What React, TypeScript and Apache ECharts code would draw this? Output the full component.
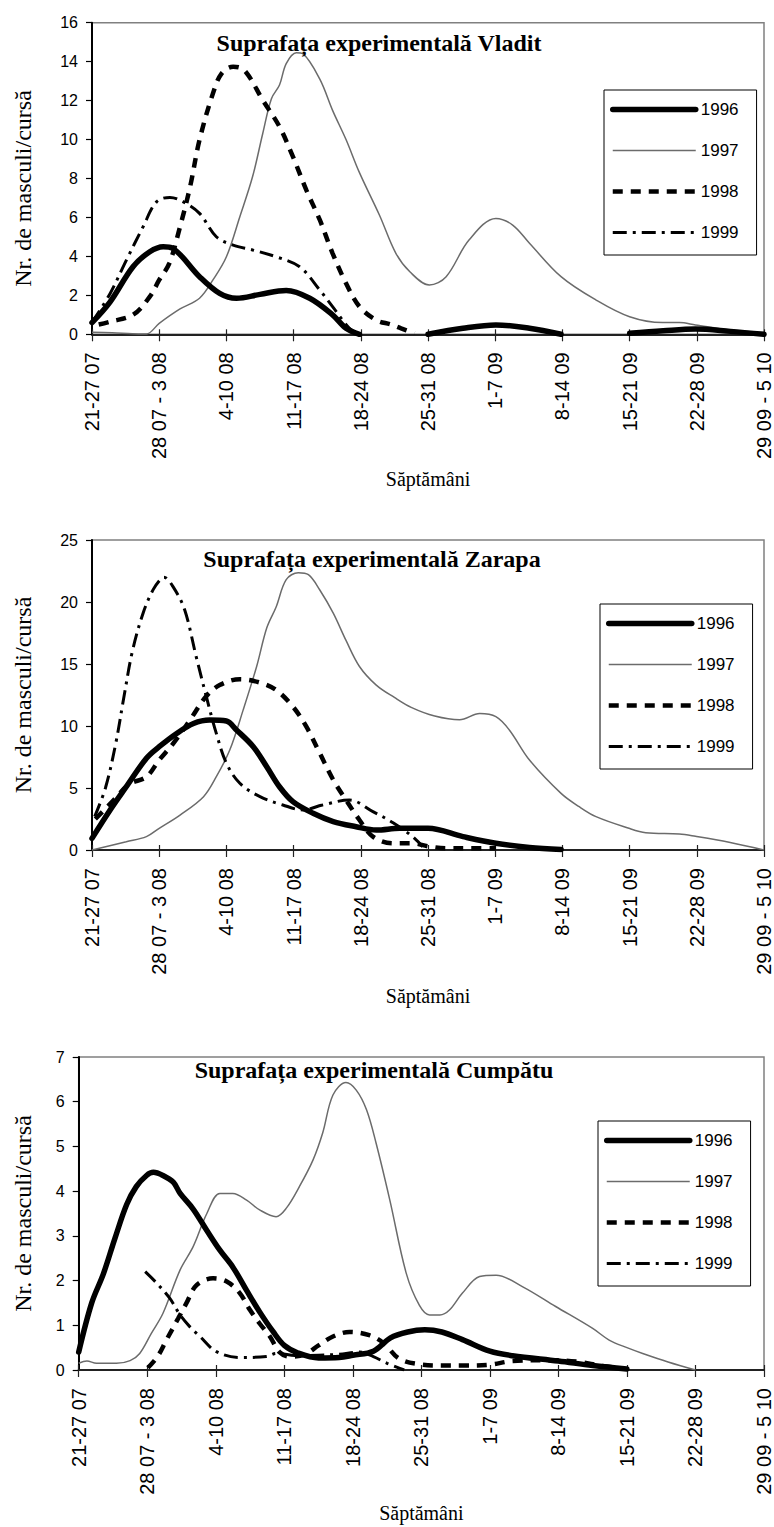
import React, { useEffect, useRef } from "react";
import * as echarts from "echarts";

const weekLabels = [
  "21-27 07", "28 07 - 3 08", "4-10 08", "11-17 08", "18-24 08", "25-31 08",
  "1-7 09", "8-14 09", "15-21 09", "22-28 09", "29 09 - 5 10",
];
const years = ["1996", "1997", "1998", "1999"];
const panelTitles = [
  "Suprafața experimentală Vladit",
  "Suprafața experimentală Zarapa",
  "Suprafața experimentală Cumpătu",
];
const yAxisName = "Nr. de masculi/cursă";
const xAxisName = "Săptămâni";
const yMax = [16, 25, 7];
const yStep = [2, 5, 1];

// Panel 1 – Vladit ([week index, value]; "-" = no data)
const vladit1996 = [[0,0.6],[0.27,1.67],[0.61,3.47],[0.86,4.24],[1.06,4.5],[1.2,4.42],[1.6,2.96],[1.9,2.1],[2.15,1.85],[2.5,2.05],[2.89,2.25],[3.24,1.85],[3.58,1.0],[3.78,0.31],[3.98,0],[4.5,"-"],[5.0,0],[5.52,0.31],[6.01,0.48],[6.51,0.31],[6.98,0],[7.5,"-"],[8.0,0.05],[8.5,0.18],[8.98,0.27],[9.5,0.15],[10,0]];
const vladit1997 = [[0,0.1],[0.3,0.08],[0.6,0.03],[0.81,0.02],[1.0,0.56],[1.31,1.3],[1.6,1.85],[1.8,2.79],[2.0,3.98],[2.2,6.04],[2.39,8.1],[2.54,10.3],[2.67,12.1],[2.79,12.8],[2.89,13.9],[3.04,14.46],[3.14,14.4],[3.39,13.1],[3.58,11.5],[3.78,10.0],[3.98,8.3],[4.28,6.1],[4.52,4.17],[4.73,3.21],[5.02,2.53],[5.27,2.96],[5.61,4.84],[6.01,5.95],[6.26,5.61],[6.51,4.68],[6.98,2.96],[7.5,1.76],[8.0,0.9],[8.49,0.6],[8.74,0.6],[8.98,0.48],[9.48,0.22],[10,0.08]];
const vladit1998 = [[0.1,0.5],[0.27,0.65],[0.61,1.0],[0.86,1.93],[1.0,2.79],[1.15,3.64],[1.31,5.52],[1.46,7.58],[1.6,9.98],[1.8,12.37],[1.93,13.4],[2.1,13.74],[2.27,13.55],[2.54,12.03],[2.79,10.66],[2.99,9.12],[3.19,7.4],[3.39,5.87],[3.58,4.16],[3.78,2.62],[3.98,1.42],[4.23,0.73],[4.45,0.5],[4.6,0.3],[4.8,0.05]];
const vladit1999 = [[0,0.6],[0.27,2.1],[0.51,3.8],[0.76,5.52],[0.96,6.8],[1.16,7.03],[1.36,6.8],[1.6,6.21],[1.85,5.01],[2.1,4.58],[2.39,4.33],[2.74,3.98],[3.09,3.47],[3.39,2.27],[3.58,1.42],[3.83,0.31],[3.98,0]];

// Panel 2 – Zarapa
const zarapa1996 = [[0,0.94],[0.27,3.23],[0.51,5.1],[0.81,7.4],[1.0,8.33],[1.26,9.4],[1.51,10.2],[1.75,10.48],[2.0,10.4],[2.15,9.68],[2.4,8.33],[2.6,6.72],[2.79,5.1],[2.99,3.9],[3.29,2.96],[3.59,2.29],[3.93,1.88],[4.23,1.61],[4.58,1.75],[5.0,1.75],[5.52,1.08],[6.01,0.54],[6.51,0.21],[6.98,0.05]];
const zarapa1997 = [[0,0],[0.51,0.67],[0.81,1.08],[1.0,1.75],[1.31,2.82],[1.66,4.3],[1.85,5.91],[2.05,8.06],[2.25,11.3],[2.45,14.8],[2.6,17.9],[2.74,19.6],[2.89,21.8],[3.07,22.36],[3.22,22.2],[3.39,20.97],[3.59,19.1],[3.78,16.9],[3.98,14.8],[4.23,13.3],[4.5,12.3],[4.75,11.5],[5.1,10.8],[5.47,10.5],[5.77,11.0],[6.01,10.75],[6.21,9.68],[6.51,7.26],[6.98,4.57],[7.25,3.49],[7.5,2.69],[7.99,1.75],[8.24,1.4],[8.74,1.29],[8.98,1.1],[9.48,0.62],[10,0]];
const zarapa1998 = [[0.05,2.5],[0.32,4.0],[0.55,5.3],[0.81,5.9],[1.0,7.26],[1.21,8.6],[1.46,10.5],[1.7,12.4],[1.9,13.3],[2.2,13.77],[2.5,13.5],[2.74,12.9],[2.99,11.56],[3.19,9.94],[3.39,7.8],[3.59,5.65],[3.78,4.03],[3.98,2.42],[4.18,1.08],[4.48,0.54],[4.77,0.54],[5.0,0.3],[5.27,0.14],[5.66,0.14],[6.01,0.14]];
const zarapa1999 = [[0.04,2.7],[0.2,5.0],[0.35,8.5],[0.48,12.5],[0.6,16.0],[0.76,19.1],[0.91,21.0],[1.03,21.9],[1.07,22.0],[1.21,21.2],[1.38,19.35],[1.55,15.6],[1.7,12.4],[1.85,9.4],[2.0,7.0],[2.2,5.38],[2.5,4.3],[2.84,3.63],[3.14,3.23],[3.43,3.63],[3.83,4.03],[4.18,3.1],[4.48,2.2],[4.77,1.08],[4.92,0.27]];

// Panel 3 – Cumpătu
const cumpatu1996 = [[0,0.4],[0.19,1.5],[0.36,2.15],[0.53,2.95],[0.7,3.7],[0.84,4.1],[0.99,4.35],[1.09,4.42],[1.23,4.35],[1.38,4.2],[1.48,3.95],[1.67,3.6],[1.87,3.12],[2.06,2.68],[2.25,2.3],[2.45,1.78],[2.64,1.3],[2.84,0.85],[3.0,0.55],[3.2,0.38],[3.5,0.27],[3.8,0.28],[4.0,0.33],[4.3,0.42],[4.55,0.72],[4.8,0.85],[5.05,0.9],[5.3,0.85],[5.6,0.68],[6.0,0.42],[6.33,0.32],[7.0,0.2],[7.5,0.1],[8.0,0.02]];
const cumpatu1997 = [[0,0.15],[0.12,0.2],[0.26,0.15],[0.55,0.15],[0.75,0.21],[0.89,0.37],[1.06,0.82],[1.23,1.27],[1.48,2.24],[1.67,2.76],[1.87,3.5],[2.06,3.95],[2.25,3.95],[2.45,3.8],[2.64,3.58],[2.88,3.43],[3.03,3.62],[3.22,4.1],[3.42,4.7],[3.56,5.3],[3.71,6.15],[3.9,6.43],[4.05,6.26],[4.2,5.82],[4.34,5.07],[4.54,3.8],[4.78,2.16],[4.97,1.45],[5.12,1.23],[5.27,1.23],[5.41,1.34],[5.6,1.72],[5.85,2.09],[6.09,2.12],[6.48,1.86],[6.96,1.42],[7.5,0.93],[7.74,0.67],[8.0,0.5],[8.23,0.37],[8.6,0.18],[9.0,0]];
const cumpatu1998 = [[1.01,0.05],[1.15,0.3],[1.28,0.67],[1.45,1.15],[1.57,1.49],[1.72,1.9],[1.96,2.05],[2.16,1.98],[2.35,1.72],[2.5,1.34],[2.64,1.04],[2.79,0.75],[2.93,0.4],[3.08,0.3],[3.3,0.35],[3.5,0.55],[3.71,0.75],[3.95,0.85],[4.24,0.78],[4.45,0.6],[4.68,0.25],[5.02,0.12],[5.31,0.1],[5.6,0.1],[6.0,0.12],[6.33,0.2],[6.92,0.22],[7.31,0.18],[7.6,0.1],[7.94,0.03]];
const cumpatu1999 = [[0.97,2.2],[1.14,1.94],[1.33,1.6],[1.48,1.23],[1.62,0.97],[1.77,0.75],[2.01,0.41],[2.35,0.28],[2.74,0.3],[2.88,0.37],[3.2,0.32],[3.5,0.33],[3.8,0.35],[4.1,0.4],[4.3,0.3],[4.5,0.15],[4.75,0.0]];

const panelData = [
  [vladit1996, vladit1997, vladit1998, vladit1999],
  [zarapa1996, zarapa1997, zarapa1998, zarapa1999],
  [cumpatu1996, cumpatu1997, cumpatu1998, cumpatu1999],
];

const SANS = '"Liberation Sans", Arial, sans-serif';
const SERIF = '"Liberation Serif", "Times New Roman", serif';

const lineStyles: any[] = [
  { color: "#000", width: 5.5, type: "solid", cap: "round", join: "round" },
  { color: "#6b6b6b", width: 1.5, type: "solid" },
  { color: "#000", width: 4.5, type: [10, 8] },
  { color: "#000", width: 3, type: [14, 6, 3, 6] },
];

// layout of the three panels (px)
const grids = [
  { left: 92, top: 22.7, width: 673, height: 311.6 },
  { left: 92, top: 540, width: 673, height: 310 },
  { left: 78.7, top: 1057, width: 686.3, height: 313 },
];
const titlePos = [
  { x: 379, y: 43 },
  { x: 372, y: 559 },
  { x: 374, y: 1070 },
];
const legendPos = [
  { left: 604, top: 90 },
  { left: 600, top: 604 },
  { left: 598, top: 1121 },
];
const xNameGap = [135, 136, 133];
const yNameGap = [57, 57, 44];
const yNamePad = [[0, 20, 0, 0], [0, 0, 0, 0], [0, 0, 0, 0]];

export default function App() {
  const ref = useRef<HTMLDivElement>(null);
  useEffect(() => {
    document.body.style.margin = "0";
    const chart = echarts.init(ref.current!, null, { renderer: "svg" });

    const xAxes: any[] = [];
    const overlayX: any[] = [];
    const yAxes: any[] = [];
    const series: any[] = [];
    grids.forEach((g, i) => {
      xAxes.push({
        gridIndex: i,
        type: "value",
        min: 0,
        max: 10,
        interval: 1,
        position: "bottom",
        name: xAxisName,
        nameLocation: "middle",
        nameGap: xNameGap[i],
        nameTextStyle: { fontFamily: SERIF, fontSize: 20, color: "#000" },
        axisLine: { onZero: false, lineStyle: { color: "#222", width: 2 } },
        axisTick: { length: 7, lineStyle: { color: "#222", width: 1.2 } },
        axisLabel: {
          rotate: 90,
          margin: 18,
          fontFamily: SANS,
          fontSize: 20,
          color: "#000",
          showMinLabel: true,
          showMaxLabel: true,
          formatter: (v: number) => weekLabels[Math.round(v)] ?? "",
        },
        splitLine: { show: false },
      });
      overlayX.push({
        gridIndex: i,
        type: "value",
        min: 0,
        max: 10,
        interval: 1,
        position: "bottom",
        axisLine: { show: false, onZero: false },
        axisTick: { inside: true, length: 5, lineStyle: { color: "#222", width: 1.2 } },
        axisLabel: { show: false },
        splitLine: { show: false },
      });
      yAxes.push({
        gridIndex: i,
        type: "value",
        min: 0,
        max: yMax[i],
        interval: yStep[i],
        name: yAxisName,
        nameLocation: "middle",
        nameGap: yNameGap[i],
        nameTextStyle: { fontFamily: SERIF, fontSize: 24, color: "#000", padding: yNamePad[i] },
        axisLine: { show: true, lineStyle: { color: "#000", width: 2 } },
        axisTick: { show: true, length: 6, lineStyle: { color: "#000", width: 1.2 } },
        axisLabel: { margin: 14, fontFamily: SANS, fontSize: 16, color: "#000" },
        splitLine: { show: false },
      });
      panelData[i].forEach((d, k) => {
        series.push({
          type: "line",
          name: years[k],
          xAxisIndex: i,
          yAxisIndex: i,
          data: d,
          smooth: 0.35,
          symbol: "none",
          itemStyle: { color: "#000", opacity: 0 },
          lineStyle: lineStyles[k],
          z: k === 0 ? 3 : 2,
        });
      });
    });

    const option: any = {
      animation: false,
      backgroundColor: "#fff",
      grid: grids.map((g) => ({
        ...g,
        show: true,
        borderColor: "#808080",
        borderWidth: 1.5,
        backgroundColor: "transparent",
        containLabel: false,
      })),
      xAxis: [...xAxes, ...overlayX],
      yAxis: yAxes,
      legend: legendPos.map((p) => ({
        ...p,
        orient: "vertical",
        data: years,
        itemWidth: 83,
        itemHeight: 14,
        itemGap: 24,
        padding: [11, 18, 14, 6],
        borderColor: "#000",
        borderWidth: 1,
        backgroundColor: "#fff",
        selectedMode: false,
        itemStyle: { opacity: 0 },
        lineStyle: { width: "inherit" },
        textStyle: { fontFamily: SANS, fontSize: 17, color: "#000" },
      })),
      graphic: titlePos.map((p, i) => ({
        type: "text",
        x: p.x,
        y: p.y,
        z: 10,
        style: {
          text: panelTitles[i],
          fontFamily: SERIF,
          fontWeight: "bold",
          fontSize: 24,
          fill: "#000",
          align: "center",
          verticalAlign: "middle",
        },
      })),
      series,
    };
    chart.setOption(option);
    return () => chart.dispose();
  }, []);
  return <div ref={ref} style={{ width: 774, height: 1527 }} />;
}
